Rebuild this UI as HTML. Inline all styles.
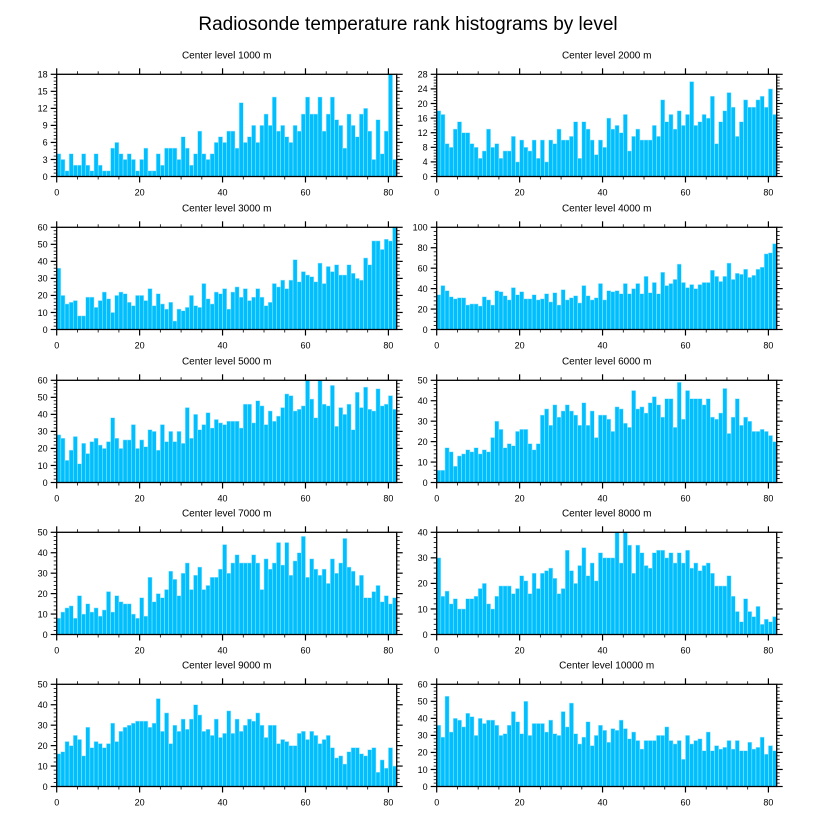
<!DOCTYPE html>
<html><head><meta charset="utf-8">
<style>
html,body{margin:0;padding:0;background:#fff;}
svg{display:block;font-family:"Liberation Sans",Arial,sans-serif;}
</style></head>
<body>
<svg id="chart" width="816" height="824" viewBox="0 0 816 824" xmlns="http://www.w3.org/2000/svg">
<text x="408" y="30" font-size="19" text-anchor="middle" fill="#000">Radiosonde temperature rank histograms by level</text>
</svg>
<script>
const levels = ["1000","2000","3000","4000","5000","6000","7000","8000","9000","10000"];
const yMaxes = [18,28,60,100,60,50,50,40,50,60];
const yMajorSteps = [3,4,10,20,10,10,10,10,10,10];
const xTickLabels = [0,20,40,60,80];
const counts1000 = [4,3,1,4,2,2,4,2,1,4,2,1,1,5,6,4,3,4,3,1,3,5,1,1,4,2,5,5,5,3,7,5,2,4,8,4,3,4,6,7,6,8,8,5,13,6,7,9,6,9,11,9,14,8,9,7,6,9,8,11,14,11,11,14,8,11,14,10,9,5,11,9,7,11,12,8,3,10,4,8,18,3];
const counts2000 = [18,17,9,8,13,15,12,12,9,8,5,7,13,8,9,5,7,7,11,4,10,8,7,10,5,10,4,10,9,13,10,10,11,15,5,15,13,10,6,10,8,16,13,14,12,17,7,11,13,10,10,10,14,11,21,15,17,13,18,14,17,26,14,15,17,16,22,9,15,18,23,19,11,15,21,19,19,21,22,19,24,17];
const counts3000 = [36,20,15,16,17,8,8,19,19,13,17,22,18,10,20,22,21,16,14,20,20,17,24,14,21,15,12,16,5,12,11,13,20,14,13,27,18,15,22,21,24,12,22,25,19,24,17,19,24,19,14,16,27,25,29,24,29,41,28,34,32,31,28,39,27,37,34,38,32,32,38,33,30,29,42,38,52,52,47,53,52,60];
const counts4000 = [34,43,38,32,30,31,31,24,25,25,23,32,29,24,38,37,33,29,41,34,37,30,30,34,29,30,35,27,36,24,39,29,31,33,26,43,33,29,31,45,29,38,37,38,35,45,35,40,45,35,52,36,46,35,56,43,45,49,64,46,41,44,40,44,46,46,58,52,47,52,65,49,55,54,59,51,53,59,61,74,75,84];
const counts5000 = [28,26,13,19,27,11,23,17,24,26,22,20,24,38,26,20,25,25,34,20,25,21,31,30,19,34,24,30,24,30,23,44,26,40,31,34,41,32,37,35,34,36,36,36,32,46,46,35,48,45,34,42,36,39,44,52,51,42,43,45,60,49,38,60,46,45,57,33,44,40,46,31,53,44,56,43,42,55,45,46,51,43];
const counts6000 = [6,6,17,15,8,13,14,16,15,17,14,16,15,22,30,26,17,19,18,25,26,26,19,16,19,33,36,28,38,32,35,38,35,33,28,39,28,35,22,33,33,31,25,37,36,29,27,45,36,37,34,39,42,38,32,41,41,27,49,31,45,41,41,41,38,41,32,31,34,46,24,32,41,28,32,30,25,25,26,25,23,20];
const counts7000 = [8,11,13,14,8,19,10,15,11,13,9,12,21,11,19,16,15,15,10,8,18,9,28,16,20,18,22,31,27,19,30,35,22,29,33,22,24,28,28,32,44,30,35,39,35,35,35,39,35,22,37,32,35,45,34,45,29,36,40,48,28,37,32,29,32,25,37,30,35,47,33,31,24,29,18,18,21,24,16,19,15,18];
const counts8000 = [30,15,17,12,14,10,10,14,14,15,18,20,12,10,15,19,19,19,16,18,23,21,16,24,18,24,25,26,22,16,18,33,25,20,27,34,23,28,21,32,30,30,30,40,28,40,35,24,35,32,27,26,32,33,33,30,32,28,32,28,33,26,28,25,27,28,24,19,19,19,23,15,9,5,14,9,7,11,4,6,5,7];
const counts9000 = [16,17,22,20,25,23,15,29,19,22,21,19,21,31,22,27,29,30,31,32,32,32,29,31,43,27,36,21,30,27,33,28,33,40,35,27,28,25,33,24,26,37,26,33,27,30,33,32,36,30,24,30,30,21,23,22,20,20,26,27,23,27,25,21,23,25,19,14,15,11,17,19,19,16,15,18,19,7,13,9,19,10];
const counts10000 = [36,29,53,32,40,39,35,43,41,30,40,37,39,39,36,30,31,36,44,38,31,50,30,37,37,37,32,39,31,30,44,35,49,31,25,29,38,24,30,36,33,26,34,33,39,34,28,32,27,22,27,27,27,30,30,35,27,25,27,16,30,25,27,28,21,32,21,24,22,23,27,22,27,21,21,26,22,23,29,19,24,21];
const allCounts = [counts1000,counts2000,counts3000,counts4000,counts5000,counts6000,counts7000,counts8000,counts9000,counts10000];

const NS = "http://www.w3.org/2000/svg";
const svg = document.getElementById('chart');
function mk(tag, attrs, parent){
  const e = document.createElementNS(NS, tag);
  for (const k in attrs) e.setAttribute(k, attrs[k]);
  parent.appendChild(e);
  return e;
}
const colX = [56.7, 436.7];
const rowY = [74.3, 227.3, 380.3, 532.3, 684.3];
const W = 340, H = 102.2, XMAX = 82;

allCounts.forEach((data, p) => {
  const left = colX[p % 2], top = rowY[Math.floor(p / 2)];
  const ymax = yMaxes[p], step = yMajorSteps[p];
  const sx = v => left + v / XMAX * W;
  const sy = v => top + H - v / ymax * H;
  const g = mk('g', {}, svg);
  
  
  const t = mk('text', {x: left + W / 2, y: top - 16, 'font-size': 10, 'text-anchor': 'middle', fill: '#000'}, g);
  
  
  t.textContent = 'Center level ' + levels[p] + ' m';
  data.forEach((v, i) => {
    const y = sy(Math.min(v, ymax));
    const r = mk('rect', {x: sx(i), y: y, width: sx(i + 1) - sx(i), height: top + H - y, fill: '#00bfff', stroke: '#a8e8ff', 'stroke-width': 0.5}, g);
    
    
  });
  const f = mk('rect', {x: left, y: top, width: W, height: H, fill: 'none', stroke: '#000', 'stroke-width': 1.3}, g);
  
  
  // x ticks
  for (let v = 0; v <= 80; v += 5) {
    const major = v % 20 === 0, len = major ? 6 : 3;
    mk('line', {x1: sx(v), x2: sx(v), y1: top + H, y2: top + H + len, stroke: '#000', 'stroke-width': major ? 1.2 : 0.8}, g);
    mk('line', {x1: sx(v), x2: sx(v), y1: top, y2: top - len, stroke: '#000', 'stroke-width': major ? 1.2 : 0.8}, g);
  }
  xTickLabels.forEach(v => {
    const l = mk('text', {x: sx(v), y: top + H + 19, 'font-size': 9, 'text-anchor': 'middle', fill: '#000'}, g);
    
    
    l.textContent = v;
  });
  // y ticks
  const minor = step / 5;
  for (let k = 0; k * minor <= ymax + 1e-9; k++) {
    const v = k * minor, major = k % 5 === 0, len = major ? 6 : 3, y = sy(v);
    mk('line', {x1: left, x2: left - len, y1: y, y2: y, stroke: '#000', 'stroke-width': major ? 1.2 : 0.8}, g);
    mk('line', {x1: left + W, x2: left + W + len, y1: y, y2: y, stroke: '#000', 'stroke-width': major ? 1.2 : 0.8}, g);
    if (major) {
      const l = mk('text', {x: left - 9, y: y + 3.3, 'font-size': 9, 'text-anchor': 'end', fill: '#000'}, g);
      
      
      l.textContent = Math.round(v);
    }
  }
});
</script>
</body></html>
